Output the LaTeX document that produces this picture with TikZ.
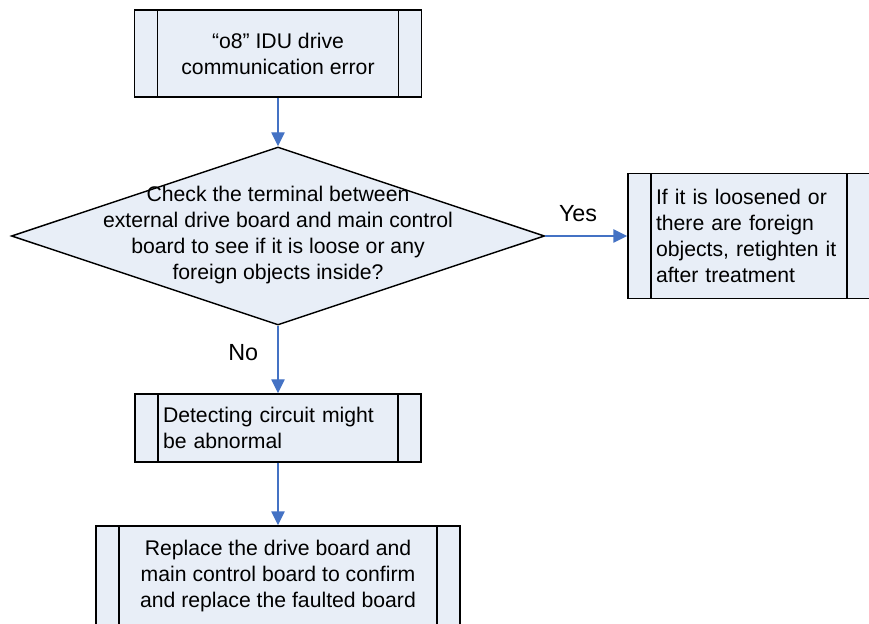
\documentclass[tikz,border=0pt]{standalone}
\usepackage{fontspec}
\setmainfont{Liberation Sans}
\usetikzlibrary{arrows.meta,shapes.geometric}
\definecolor{boxfill}{RGB}{232,238,247}
\definecolor{linkblue}{RGB}{68,114,196}
\tikzset{
  procbox/.style={draw=black, fill=boxfill, line width=1.1pt, inner sep=0pt,
    path picture={\draw[line width=1.1pt]
      ([xshift=17.25pt]path picture bounding box.north west) -- ([xshift=17.25pt]path picture bounding box.south west)
      ([xshift=-17.25pt]path picture bounding box.north east) -- ([xshift=-17.25pt]path picture bounding box.south east);}},
  decision/.style={diamond, draw=black, fill=boxfill, line width=1.1pt, inner sep=0pt, minimum width=399.75pt, minimum height=133.5pt},
  flowarrow/.style={-{Triangle[length=10.5pt, width=10pt]}, line width=1.1pt, linkblue},
  edgelabel/.style={black, font=\fontsize{17.5pt}{21pt}\selectfont}
}
\begin{document}
\begin{tikzpicture}[x=0.75pt, y=-0.75pt, font=\fontsize{15.9pt}{19.5pt}\selectfont]
  \useasboundingbox (0,0) rectangle (869,624);
  \node[procbox, minimum width=215.25pt, minimum height=65.25pt, align=center] (start) at (278,53.5) {“o8” IDU drive\\communication error};
  \node[decision] (check) at (278,236) {};
  \node[align=center, inner sep=0pt] (checktext) at (278,235) {Check the terminal between\\external drive board and main control\\board to see if it is loose or any\\foreign objects inside?};
  \node[procbox, minimum width=181.5pt, minimum height=93.75pt, text width=139.5pt, align=left] (fix) at (749,236) {If it is loosened or\\there are foreign\\objects, retighten it\\after treatment};
  \node[procbox, minimum width=214.5pt, minimum height=51pt, text width=172.5pt, align=left] (detect) at (278,428) {Detecting circuit might\\be abnormal};
  \node[procbox, minimum width=273pt, minimum height=75pt, align=center] (replace) at (278,576) {Replace the drive board and\\main control board to confirm\\and replace the faulted board};
  \draw[flowarrow] (start) -- (check);
  \draw[flowarrow] (check) -- node[pos=0.4, above=7pt, edgelabel] {Yes} (fix);
  \draw[flowarrow] (check) -- node[pos=0.4, left=11pt, edgelabel] {No} (detect);
  \draw[flowarrow] (detect) -- (replace);
\end{tikzpicture}
\end{document}
